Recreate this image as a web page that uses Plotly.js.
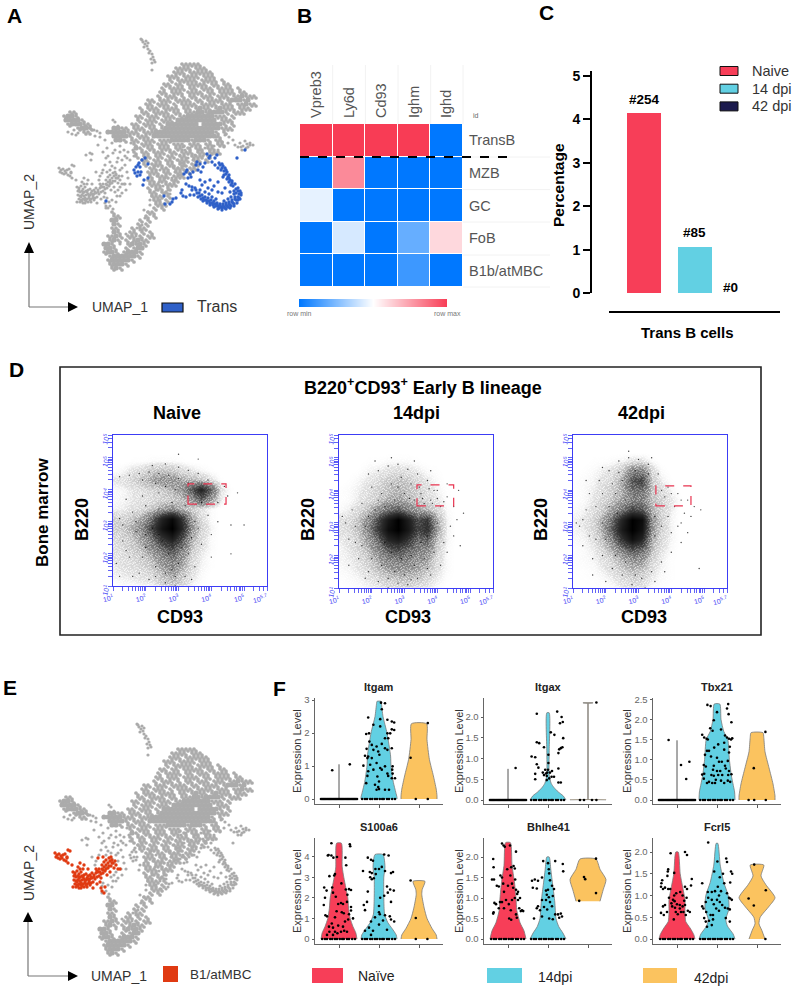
<!DOCTYPE html>
<html><head><meta charset="utf-8">
<script src="https://cdn.plot.ly/plotly-3.0.1.min.js"></script>
<style>html,body{margin:0;padding:0;background:#fff}#c{width:795px;height:989px}</style></head>
<body><div id="c"></div>
<script>
/* ---------- palette ---------- */
const RED='#F73E58', CYAN='#62D0E3', NAVY='#1C1B4E', YEL='#FBC35F', GREY='#ABABAB', BLUE='#2F60C8', ORNG='#E03A12', FB='#3C3CF5';
const FONT='Liberation Sans, Arial, sans-serif';

/* ---------- UMAP (shared embedding) : density mask, plus sparse cells ---------- */
const umapMask=[
"","","","","","","",
"                               +++++",
"                              ++++ +++",
"                             +++ ++++++",
"                            +++ ++++ +++",
"                            + +++++ ++++ +",
"                           ++ ++ +++++ ++ ++",
"                          + ++++ ++ +++ ++++ +",
"                          ++ +++ ++++ ++ ++++ ++",
"                         + +++ + ++ +++ +++ ++#+++",
"                       ++ +++ ++++ ++ ++++ +###+#",
"                      ++ +++ + ++++ ++++ +++ ++#++",
"                     + +++ ++++ ++ +#++ +#+++ +++",
"   ++                ++ ++++ ++ +++##+####+ +++",
"  +##+              ++ +++ +++ ++#######+++ +",
"  ####+             + +++ +++ ########## +++",
"   +###++          ++ +++ + ######## #####+ +",
"     +##+     ##++ +++ ++ +##############+++",
"       ++    #####+++ +++###############+ +",
"              ####+ +++ ################+ ",
"               ##+ ++ +++ +++#####+###+ ++",
"                   + +++ +++ +++ +++ ++ ++",
"                    #+ ++ +++ ++ + ++ ++",
"                   + ++ +++ ++ +++ ++ +++",
"                    + ++ ++ ++ ++ +++ +",
"                     ++ ++ ++ +++ ++ +",
"                      + +++ ++ ++ ++",
"                       ++ ++ +++ ++",
"                       +++ ++ ++ +",
"                       + +++ +++",
"                       ++ ++ ++",
"                       +++ +++",
"                       + ++ +",
"                       ++ ++ ",
"                        +++ +",
"                        ++ +",
"                         +++",
"                        + +",
"              +        ++ ",
"              ++      + +",
"              ##     + +",
"              #+    + +",
"              ++   + ++",
"              #+  ++ + +",
"             ++#+ ++ + ++",
"             +#+ + +#++",
"            ##+   +#+#+",
"            ##+  + +##",
"            +##+ +###+",
"             +######+",
"             +#####+",
"             +###+",
"              +#+"
];
const umapSparse=[[141,39],[143,42],[146,41],[148,43],[145,44],[147,46],[148,49],[150,51],[149,53],[152,54],[153,57],[154,60],[151,59],[152,63],[155,62],[152,70],[142,40],[144,47],
[68,132],[72,134],[76,135],[74,130],[78,133],[85,126],[88,128],[91,129],[94,130],[97,131],[100,133],[81,128],[84,130],
[115,122],[113,120],[118,126],[95,136],[100,137],[105,140],[98,145],[107,148],[112,143],[90,153],[92,154],[103,152],[108,156],[115,150],[120,146],[124,150],[128,152],[118,158],[122,160],[110,162],[105,165],[115,168],[120,170],[125,165],[130,160],[127,172],[118,178],[113,153],[110,170],[122,176],[128,178],[125,184],[120,187],[130,184],[106,158],[133,150],[131,143],[134,156],[127,158],[112,166],[117,162],[122,168],[125,156],[120,152],[116,174],[126,190],[122,193],[118,190],
[86,155],[91,160],[96,172],[100,176],[103,170],[99,180],[110,182],[115,192],[117,196],[120,196],[112,200],[116,202],[110,206],[106,208],[113,209],[107,198],
[220,140],[225,135],[229,137],[233,140],[228,143],[224,147],[235,145],[240,143],[243,146],[247,144],[250,145],[253,145],[246,148],[242,150],[238,147],[250,143],[245,141],[222,142],[217,137],[241,147],[248,147],
[185,150],[190,148],[195,155],[200,150],[205,148],[210,150],[214,146],[218,150],[180,155],[188,158],[193,160],[177,160],[182,163],[178,168],[175,172],[172,178],[170,184],[168,190],[165,193],[160,200],[175,180],[180,175],[184,166],[173,167],[168,172],[165,178],[163,186],[170,194],[203,156],[212,154],[183,147],[150,205],[148,212],[145,218],[142,225],[140,230],[136,236],[144,210],[150,200],[152,196],[156,190],[159,182],[157,176],[160,170],[155,166],
[132,236],[137,228],[133,242],[128,250],[141,238],[126,234],[120,244],[137,244]];
const umapTrans=[[192,190],[197,193],[200,196],[203,198],[206,200],[209,201],[212,203],[215,204],[218,206],[221,207],[224,207],[227,206],[230,205],[233,203],[236,200],[238,197],[239,194],[238,191],[236,189],
[199,193],[202,195],[205,197],[208,198],[211,200],[214,201],[217,203],[220,204],[223,204],[226,203],[229,202],[232,200],[235,197],[236,193],[234,191],[203,201],[207,203],[210,205],[214,207],[218,209],[222,210],[226,209],[230,208],[234,206],[237,203],[240,199],[241,195],[240,191],[238,188],[234,194],[231,197],[228,199],[224,201],[216,199],[212,197],[209,194],[205,192],[200,190],[196,190],[194,195],[198,197],
[201,199],[204,200],[207,201],[210,203],[213,205],[216,206],[219,208],[222,208],[225,208],[228,207],[231,206],[234,204],[238,200],[239,198],[241,193],[235,199],[232,202],[229,204],[226,205],[223,206],[220,206],[217,205],[213,203],
[220,165],[222,168],[224,171],[226,174],[228,177],[230,180],[232,183],[233,186],[221,170],[224,175],[227,179],[229,182],[219,163],[222,164],[225,168],[227,172],[229,175],[218,168],[223,177],[231,185],[235,184],[223,166],[226,170],[229,178],[232,181],
[200,164],[197,162],[203,167],[198,170],[205,163],[209,158],[212,162],[215,158],[207,154],[215,165],[201,172],[196,165],[210,156],[217,155],
[186,172],[190,174],[188,178],[191,177],[186,184],[189,186],[192,187],[195,188],[182,190],[181,193],[183,196],[186,197],[190,195],[184,174],[193,172],[187,170],
[136,167],[138,165],[140,167],[138,172],[140,175],[135,173],[137,176],[141,172],[142,160],[145,158],[148,164],[144,180],[148,178],[143,185],[134,170],[139,163],
[165,204],[170,204],[173,199],[176,198],[172,202],[164,196],
[245,150],[237,158],[106,201],
[200,180],[205,182],[210,180],[212,190],[218,182],[225,188],[230,192],[218,192],[208,188],[202,185],[222,193],[214,186]];
const umapB1=[[59,168],[61,170],[63,169],[65,171],[67,170],[60,172],[62,173],[64,174],[66,173],[68,175],[70,176],[71,172],[69,169],[71,173],[72,178],[76,180],[72,165],[74,166],
[77,187],[79,188],[81,186],[83,189],[85,187],[78,191],[80,192],[82,191],[84,192],[86,191],[88,190],[90,189],[92,191],[94,190],[78,195],[80,196],[82,195],[84,196],[86,195],[88,194],[90,195],[92,194],[94,194],[96,193],[79,199],[81,200],[83,199],[85,200],[87,199],[89,198],[91,199],[93,198],[95,198],[97,197],[77,202],[80,202],[83,203],[85,203],[88,202],[91,202],[84,184],[87,184],[82,182],[96,188],[98,190],[100,188],[102,187],[99,194],[101,192],[103,191],[105,189],[107,188],[109,186],[100,184],[103,184],[106,184],[108,182],[110,180],[112,178],[114,176],[116,175],[112,183],[115,181],[118,183],[120,180],[122,184],[124,184],[117,178],[113,173],[108,177],[106,180],[110,175],[119,176],[104,197],[101,199],[105,203],[106,206],[108,208],[109,202],[97,203],[84,178],[88,180],[92,184],[105,193],[111,190],[114,187],[107,172],[102,173],[115,172],
[79,190],[83,193],[87,192],[91,193],[95,192],[81,197],[85,198],[89,196],[93,196],[82,201],[86,201],[90,200],[94,200],[98,192],[101,186],[104,187],[107,185],[110,184],[113,181],[116,178]];

/* ---------- Panel B heatmap ---------- */
const geneNames=['Vpreb3','Ly6d','Cd93','Ighm','Ighd'];
const cellTypes=['TransB','MZB','GC','FoB','B1b/atMBC'];
const heatValues=[[1,1,1,1,0],[0,0.8,0,0,0],[0.45,0,0,0,0],[0,0.42,0,0.2,0.6],[0,0,0,0.12,0]];
const heatScale=[[0,'#0078FF'],[0.5,'#FFFFFF'],[1,'#F83C55']];
const rowScaleBar=[0,0.25,0.5,0.75,1];

/* ---------- Panel C bars ---------- */
const barGroups=['Naive','14 dpi','42 dpi'];
const barPct=[4.15,1.06,0];
const barCounts=['#254','#85','#0'];

/* ---------- Panel D flow density (rows y=1.0..5.5, cols x=1.0..5.5, step 0.3) ---------- */
const flowGrid=[1,1.3,1.6,1.9,2.2,2.5,2.8,3.1,3.4,3.7,4,4.3,4.6,4.9,5.2,5.5];
const flowTitles=['Naive','14dpi','42dpi'];
const zNaive=[
[0,2,2,3,3,8,12,8,3,1,0,0,0,0,0,0],
[3,4,5,6,8,14,18,12,5,2,0,0,0,0,0,0],
[4,6,7,9,12,20,26,18,7,3,1,0,0,0,0,0],
[5,7,9,12,18,28,36,24,9,4,1,0,0,0,0,0],
[6,8,11,16,26,40,50,32,12,6,2,0,0,0,0,0],
[7,10,14,22,38,62,78,50,18,8,2,0,0,0,0,0],
[10,12,18,28,52,84,100,68,22,10,3,0,0,0,0,0],
[10,10,14,20,40,72,92,60,20,8,2,0,0,0,0,0],
[3,4,6,8,12,20,24,16,10,6,2,0,0,0,0,0],
[2,3,5,6,8,10,12,14,24,42,22,4,0,0,0,0],
[2,3,5,7,9,12,16,24,45,72,40,6,1,0,0,0],
[5,6,10,14,20,24,24,18,16,12,6,1,0,0,0,0],
[1,3,6,8,12,14,12,8,5,3,1,0,0,0,0,0],
[0,0,1,1,2,2,2,1,0,0,0,0,0,0,0,0],
[0,0,0,0,0,0,0,0,0,0,0,0,0,0,0,0],
[0,0,0,0,0,0,0,0,0,0,0,0,0,0,0,0]];
const z14dpi=[
[0,1,2,3,4,6,8,8,6,4,2,0,0,0,0,0],
[1,2,3,5,8,12,14,14,12,8,4,1,0,0,0,0],
[2,3,5,8,14,20,22,22,18,14,6,2,0,0,0,0],
[3,4,7,12,20,30,34,30,24,20,8,2,0,0,0,0],
[3,5,9,16,28,45,50,40,30,28,10,2,0,0,0,0],
[4,6,12,22,40,68,78,60,38,42,14,3,0,0,0,0],
[6,8,14,28,55,88,100,80,50,62,20,3,0,0,0,0],
[6,8,14,26,50,80,100,75,48,58,18,3,0,0,0,0],
[2,4,8,14,24,36,42,30,20,16,8,2,0,0,0,0],
[1,2,5,8,12,18,20,16,12,8,5,1,0,0,0,0],
[1,2,4,7,10,14,16,14,10,7,3,1,0,0,0,0],
[0,1,3,5,8,12,14,12,8,5,2,0,0,0,0,0],
[0,0,1,3,4,6,7,6,4,2,1,0,0,0,0,0],
[0,0,0,1,1,2,2,2,1,0,0,0,0,0,0,0],
[0,0,0,0,0,0,0,0,0,0,0,0,0,0,0,0],
[0,0,0,0,0,0,0,0,0,0,0,0,0,0,0,0]];
const z42dpi=[
[0,0,1,1,2,4,6,5,2,1,0,0,0,0,0,0],
[0,1,1,2,4,7,10,9,4,2,1,0,0,0,0,0],
[1,1,2,4,7,12,16,14,6,3,1,0,0,0,0,0],
[1,2,3,6,11,18,26,24,10,4,1,0,0,0,0,0],
[1,2,4,9,18,34,48,40,14,6,2,0,0,0,0,0],
[2,3,6,14,30,60,85,68,18,8,3,0,0,0,0,0],
[3,4,8,18,42,78,100,85,22,10,3,0,0,0,0,0],
[3,5,9,18,38,70,100,90,24,11,3,0,0,0,0,0],
[2,3,6,11,20,34,50,45,16,10,4,0,0,0,0,0],
[1,2,5,9,14,20,30,30,14,10,5,1,0,0,0,0],
[1,2,4,7,11,18,34,36,12,8,3,0,0,0,0,0],
[1,2,3,6,9,18,46,52,12,4,1,0,0,0,0,0],
[0,1,2,4,6,12,28,30,8,2,0,0,0,0,0,0],
[0,0,1,1,2,3,6,6,2,0,0,0,0,0,0,0],
[0,0,0,0,0,0,0,0,0,0,0,0,0,0,0,0],
[0,0,0,0,0,0,0,0,0,0,0,0,0,0,0,0]];
const gateNaive=[3.29,4.45,3.55,4.18];
const gate14dpi=[3.38,4.5,3.52,4.17];
const gate42dpi=[3.53,4.6,3.52,4.14];
const dotsNaive=[[1.2,1.3],[1.5,1.9],[1.3,2.4],[1.8,1.4],[2.1,1.2],[1.7,2.7],[2.0,2.2],[2.3,1.6],[2.6,1.1],[2.9,1.0],[3.2,1.3],[3.5,1.6],[3.3,2.0],[3.7,2.3],[4.0,2.6],[3.6,2.8],[4.2,3.0],[3.9,3.2],[2.4,3.4],[2.0,3.5],[1.6,3.3],[1.2,3.1],[1.4,3.7],[1.9,3.8],[2.4,3.9],[2.8,3.6],[3.2,3.5],[1.2,4.4],[1.5,4.45],[1.8,4.5],[2.1,4.55],[2.4,4.5],[2.7,4.45],[3.0,4.35],[3.3,4.2],[1.9,4.3],[2.3,4.2],[2.6,4.1],[2.9,4.0],[2.2,4.75],[2.6,4.8],[3.0,4.7],[3.3,4.6],[3.6,4.5],[3.9,4.3],[4.4,4.1],[4.5,3.8],[4.2,3.6],[4.8,3.9],[5.0,2.9],[4.6,2.9],[4.6,2.0],[3.0,5.1],[3.6,4.95],[2.7,2.0],[2.5,2.4],[3.1,2.2],[2.8,1.5],[3.0,1.7],[2.6,1.4],[2.2,2.8],[2.4,2.6],[1.4,2.1],[1.1,1.7],[1.6,1.3],[3.4,2.5],[3.5,3.0],[3.7,3.6],[1.3,2.9],[1.7,3.0],[2.0,2.6],[4.0,1.9],[3.4,1.2],[2.3,1.3],[2.9,1.3],[1.9,1.9]];
const dots14dpi=[[1.3,1.7],[1.5,2.9],[1.2,3.0],[1.7,2.3],[1.9,1.5],[2.2,1.2],[2.5,1.0],[2.8,1.15],[3.1,1.1],[3.4,1.3],[3.8,1.4],[4.1,1.7],[4.3,2.1],[4.5,2.6],[4.6,3.1],[4.5,3.5],[4.3,3.8],[4.0,4.0],[3.7,4.3],[3.4,4.5],[3.1,4.65],[2.8,4.8],[2.5,4.75],[2.2,4.6],[1.9,4.5],[2.0,4.1],[1.7,3.6],[1.4,3.4],[2.3,3.9],[2.6,4.2],[2.9,4.4],[3.2,4.2],[3.5,3.9],[3.8,3.7],[4.1,3.5],[3.9,4.0],[3.6,3.6],[3.3,3.7],[3.0,3.9],[2.7,3.7],[2.4,3.5],[2.1,3.4],[1.8,2.9],[1.5,2.4],[2.0,1.9],[2.3,1.7],[2.7,1.5],[3.0,1.4],[3.3,1.7],[3.6,1.9],[3.9,2.1],[4.2,2.4],[4.4,2.9],[3.5,2.4],[3.2,2.0],[2.9,1.9],[2.6,2.1],[2.4,2.4],[3.7,2.6],[4.0,3.0],[1.6,1.9],[1.3,2.5],[1.1,3.2],[2.1,4.9],[2.6,5.0],[3.3,4.9],[3.8,4.6],[4.3,4.2],[4.65,4.0],[4.8,3.3],[4.7,2.3],[1.8,1.3],[2.5,1.3],[3.2,1.25],[3.7,1.6],[1.9,3.2],[2.2,3.7],[2.8,4.1],[3.15,3.75],[3.45,4.1],[3.75,4.05],[4.0,3.75],[4.2,3.65],[3.55,3.75],[3.85,3.6]];
const dots42dpi=[[1.2,2.9],[1.4,3.4],[1.3,2.3],[1.6,1.9],[1.5,3.9],[1.8,4.3],[2.1,4.6],[2.4,4.9],[2.7,5.0],[3.0,4.95],[3.3,4.8],[3.6,4.5],[3.9,4.1],[4.2,3.9],[4.5,3.7],[4.7,3.5],[4.6,3.2],[4.3,3.0],[4.0,2.7],[4.3,2.4],[4.0,2.1],[3.7,1.8],[3.4,1.5],[3.1,1.3],[2.8,1.1],[2.5,1.4],[2.2,1.6],[1.9,2.0],[1.7,2.5],[1.9,3.0],[2.1,3.5],[2.3,3.9],[2.5,4.3],[1.7,3.5],[1.3,3.1],[1.1,3.0],[1.5,2.6],[1.9,3.9],[2.2,4.2],[2.0,2.5],[2.3,2.0],[2.6,1.8],[3.5,2.6],[3.7,2.9],[3.9,3.2],[4.1,3.5],[3.8,3.8],[4.0,3.9],[4.3,3.7],[3.7,4.0],[4.4,3.3],[3.5,3.2],[3.3,4.5],[2.9,4.6],[2.4,4.55],[1.9,4.7],[3.2,1.0],[2.9,1.4],[3.5,1.2],[3.8,1.5],[4.5,2.7],[4.9,3.4],[4.85,1.6],[1.6,1.4],[2.0,1.2],[2.7,5.2],[3.4,5.0],[1.4,4.3],[4.2,2.9],[2.6,3.7],[2.35,3.3]];
/* stipple tile: breaks the smooth density into fine cytometry grain */
const grainTile=[[.03,.41],[.07,.86],[.11,.17],[.13,.62],[.18,.33],[.19,.94],[.23,.05],[.26,.71],[.28,.49],[.31,.22],[.35,.83],[.37,.58],[.41,.11],[.43,.37],[.46,.92],[.49,.68],[.52,.27],[.54,.03],[.57,.78],[.59,.47],[.63,.15],[.66,.89],[.68,.59],[.71,.34],[.74,.08],[.77,.73],[.79,.24],[.83,.97],[.85,.52],[.88,.13],[.91,.66],[.94,.39],[.97,.81],[.99,.19],
[.05,.21],[.09,.53],[.15,.78],[.21,.44],[.24,.89],[.29,.12],[.33,.64],[.39,.29],[.44,.76],[.47,.16],[.51,.55],[.56,.31],[.61,.84],[.64,.42],[.69,.06],[.73,.51],[.76,.93],[.81,.36],[.86,.74],[.9,.28],[.95,.58],[.01,.69],[.08,.02],[.16,.48],[.22,.61],[.27,.36],[.34,.01],[.38,.95],[.42,.52],[.48,.39],[.53,.87],[.58,.19],[.62,.63],[.67,.26],[.72,.79],[.78,.45],[.82,.11],[.87,.88],[.92,.47],[.96,.09],[.12,.31],[.17,.07],[.25,.54],[.32,.46],[.36,.72],[.45,.24],[.5,.98],[.55,.65],[.6,.35],[.65,.72],[.7,.44],[.75,.18],[.8,.61],[.84,.25],[.89,.56],[.93,.77],[.98,.33],[.04,.97],[.1,.74],[.14,.91],[.2,.25],[.3,.82],[.4,.67],[.02,.13]];
const grainStep=0.62;

/* ---------- Panel F violins: [levels, half-widths] per group, plus jitter dots ---------- */
const violinTitles=['Itgam','Itgax','Tbx21','S100a6','Bhlhe41','Fcrl5'];
const emptyViolin=(top)=>[[0,0.004,0.01,top],[0.45,0.45,0,0]];
const itgamShapes=[emptyViolin(1.05),
 [[0,0.05,0.2,0.5,1,1.3,2,2.5,2.9,2.96],[0.45,0.45,0.42,0.36,0.3,0.29,0.2,0.1,0.06,0.05]],
 [[0,0.1,0.3,0.7,1.2,1.8,2.28],[0.45,0.45,0.43,0.36,0.26,0.2,0.19]]];
const itgaxShapes=[emptyViolin(0.75),
 [[0,0.1,0.2,0.3,0.4,0.6,1.2,2.1],[0.45,0.38,0.25,0.15,0.08,0.03,0.03,0.03]],
 [[0,0.004,0.01,2.33,2.335,2.345],[0.45,0.45,0.004,0.004,0.12,0.12]]];
const tbx21Shapes=[emptyViolin(1.48),
 [[0,0.2,0.4,0.6,1,1.5,1.7,2,2.38],[0.45,0.44,0.4,0.36,0.31,0.27,0.17,0.1,0.07]],
 [[0,0.1,0.4,0.8,1.2,1.55,1.67],[0.45,0.45,0.4,0.3,0.2,0.17,0.15]]];
const s100Shapes=[
 [[0,0.3,0.6,1,1.5,2,2.5,3,3.5,4.65],[0.45,0.42,0.35,0.28,0.24,0.22,0.17,0.12,0.08,0.06]],
 [[0,0.2,0.5,0.8,1.2,2,3,3.5,4.1],[0.45,0.43,0.33,0.22,0.14,0.12,0.12,0.15,0.1]],
 [[0,0.2,0.5,1,1.5,2.15,2.4,2.8],[0.45,0.43,0.33,0.2,0.13,0.07,0.08,0.15]]];
const bhlhShapes=[
 [[0,0.2,0.4,0.7,1,1.4,1.8,2.35],[0.45,0.4,0.3,0.22,0.2,0.16,0.1,0.06]],
 [[0,0.15,0.3,0.5,0.9,1.3,1.7,2],[0.45,0.37,0.27,0.2,0.17,0.12,0.07,0.03]],
 [[0.92,1.2,1.45,1.7,1.95],[0.3,0.38,0.45,0.3,0.2]]];
const fcrlShapes=[
 [[0,0.1,0.25,0.4,0.6,0.9,1.2,1.5,2],[0.45,0.42,0.33,0.22,0.2,0.2,0.14,0.08,0.03]],
 [[0,0.12,0.3,0.45,0.7,1,1.3,1.7,2.2],[0.45,0.4,0.26,0.22,0.3,0.28,0.17,0.08,0.02]],
 [[0,0.2,0.35,0.5,0.75,0.95,1.25,1.45,1.7],[0.2,0.12,0.05,0.08,0.3,0.45,0.22,0.1,0.17]]];
const zeroDense=[-0.45,-0.42,-0.39,-0.36,-0.33,-0.3,-0.27,-0.24,-0.21,-0.18,-0.15,-0.12,-0.09,-0.06,-0.03,0,0.03,0.06,0.09,0.12,0.15,0.18,0.21,0.24,0.27,0.3,0.33,0.36,0.39,0.42,0.45];
const zeroSparse=[-0.42,-0.35,-0.3,-0.22,-0.17,-0.1,-0.05,0.02,0.08,0.12,0.2,0.25,0.33,0.4];
const itgamDots=[[-0.17,0.87],[0.27,1.05],
[.73,2.47],[.86,2.25],[1.07,2.72],[1.05,2.92],[1.15,2.9],[1.03,2.42],[1.21,2.4],[1.32,2.35],[1.38,2.32],[.75,1.99],[.68,1.97],[.76,1.74],[1.21,1.99],[1.03,2.2],[1.32,2.11],[1.38,2.09],[1.15,1.84],[1.23,1.84],[1.28,1.99],[.82,1.64],[.94,1.59],[1.07,1.67],[1.32,1.54],[.69,1.52],[.65,1.31],[.73,1.29],[.71,1.24],[.86,1.49],[.98,1.44],[1.01,1.34],[1.15,1.54],[1.21,1.49],[.82,1.24],[.61,1.01],[.78,1.04],[.94,1.09],[1.07,.89],[1.15,.99],[1.34,.99],[1.33,.89],[.73,.84],[.86,.89],[1.03,.94],[1.21,.77],[1.23,.7],[1.34,.77],[1.32,.63],[1.4,.63],[.71,.7],[.96,.68],[1,.53],[.9,.43],[.98,.36],[1.15,.28],[1.25,.28],[.68,.48],[.94,.28],[1,.3],
[2.22,2.3],[1.79,1.25],[1.92,0],[2.22,0]];
const itgaxDots=[[0.19,0.77],
[.72,2.08],[1.23,2.13],[1.34,2],[1.3,1.85],[1.37,1.88],[1.07,1.63],[1.16,1.57],[1.38,1.49],[.72,1.39],[.78,1.37],[.9,1.27],[1.32,1.25],[1.36,1.27],[1.28,1.22],[1.26,1.13],[.59,1.05],[.68,1.03],[1.01,1.09],[1.01,.89],[.72,.86],[.76,.78],[1.26,.76],[.93,.73],[1,.73],[.87,.66],[.95,.64],[1.05,.66],[.68,.63],[.97,.58],[1.09,.56],[1.15,.56],[.68,.5],[.97,.48],[1.26,.42],[1.32,.42],[1.03,.52],[.9,.6],[1.1,.7],[.98,.66],
[2.21,2.35],[1.8,0],[1.9,0],[2.1,0],[2.21,0]];
const tbx21Dots=[[-0.21,1.49],[0.1,0.87],[0.31,0.95],[0.23,0.52],
[.76,2.36],[.84,2.33],[1.28,2.38],[1.25,2.27],[1,2.18],[1.29,2.13],[1.36,1.93],[.92,1.98],[.83,1.78],[.89,1.72],[.63,1.62],[.68,1.55],[.74,1.52],[.77,1.5],[1.1,1.75],[1.2,1.6],[1.25,1.55],[1.3,1.52],[1.35,1.5],[1.38,1.53],[1.03,1.38],[1.18,1.42],[.93,1.3],[.75,1.22],[.8,1.22],[1.18,1.25],[1.32,1.32],[1.3,1.18],[.7,1.12],[.85,1.08],[1,1.05],[1.05,.95],[1.12,.95],[1.27,.97],[.67,.87],[.72,.83],[.92,.85],[1.2,.85],[.9,.75],[1,.72],[1.08,.72],[1.22,.78],[1.3,.72],[.68,.65],[.86,.62],[.92,.6],[1.03,.62],[1.13,.62],[1.28,.62],[1.36,.64],[.63,.63],[.67,.53],[.8,.45],[.88,.42],[.97,.5],[1.1,.48],[1.18,.42],[1.27,.48],[1.33,.45],[.75,.42],[.95,.42],
[2.21,1.69],[1.92,.79],[1.79,0],[1.93,0],[2.22,0]];
const s100Dots=[[-0.26,4.08],[-0.19,4.05],[-0.28,4.05],[-0.14,3.95],[-0.05,3.98],[-0.19,4.65],[0.27,4.6],[0.28,4.5],[0.16,3.95],[0.18,3.58],[-0.24,3.05],[-0.1,3.15],[-0.12,3.08],[-0.37,2.5],[-0.31,2.35],[-0.35,2.0],[-0.38,1.65],[-0.3,1.1],[-0.34,1.15],[-0.17,2.5],[-0.15,2.25],[-0.08,2.05],[0.06,2.7],[0.17,2.4],[0.25,2.42],[0.3,2.38],[0.21,2.15],[0.3,1.55],[0.3,1.38],[0.35,1.0],[0.05,1.75],[-0.02,1.7],[0.1,1.7],[0.2,1.8],[-0.06,1.35],[-0.1,1.05],[0.07,1.3],[0.12,1.25],[0.25,1.2],[0.23,0.95],[0.15,0.85],[-0.18,0.75],[-0.25,0.6],[-0.15,0.55],[-0.02,0.65],[0.1,0.6],[-0.24,0.35],[-0.1,0.35],[-0.04,0.28],[0.05,0.35],[0.13,0.4],[0.2,0.35],[-0.3,0.2],[-0.15,0.2],
[.72,3.95],[.8,3.85],[.85,3.8],[.91,3.4],[1.13,4.1],[1.24,4.05],[.6,3.3],[.77,3.25],[.82,3.2],[.92,3.15],[1,3.4],[1.07,3.5],[1.15,3.3],[1.3,3.2],[1.35,3.25],[.78,3],[.82,2.9],[.87,2.95],[.72,2.3],[1.28,2.4],[1.37,2.35],[1.2,2.55],[1.22,2.25],[1.13,2.1],[1.03,2],[1.3,1.8],[.62,1.65],[.7,1.8],[.65,1.4],[1,1.6],[1,1.3],[1.02,1.2],[1.15,1.15],[1.27,1.1],[1.3,.95],[1.38,.85],[.9,1.05],[.8,.85],[.75,.55],[.65,.4],[.85,.4],[1,.7],[1.1,.9],[1.2,.45],[.8,.2],
[1.79,2.84],[1.92,1.02],[1.92,0],[2.21,0]];
const bhlhDots=[[-0.15,2.33],[-0.11,2.28],[-0.08,2.25],[0.05,2.28],[-0.37,1.95],[0.2,2.13],[-0.36,1.75],[0.14,1.78],[0.17,1.72],[0.08,1.75],[-0.02,1.7],[-0.4,1.45],[-0.19,1.55],[-0.15,1.5],[-0.35,1.45],[-0.28,1.3],[-0.23,1.28],[-0.12,1.35],[0.06,1.55],[0.18,1.45],[0.2,1.2],[-0.1,1.15],[0,1.3],[0.1,1.35],[0.13,1.25],[0.23,1.1],[0.25,1.15],[0.3,1],[-0.34,0.88],[-0.3,0.85],[-0.2,0.9],[-0.15,0.9],[-0.05,0.95],[0.02,0.85],[0.1,0.95],[0.17,1],[0.25,0.95],[0.28,0.75],[0.35,0.7],[0.32,0.68],[0.38,0.68],[-0.36,0.65],[-0.37,0.62],[-0.23,0.75],[-0.1,0.75],[0.07,0.7],[0.2,0.6],[0.22,0.52],[0.03,0.5],[0.08,0.47],
[.6,1.42],[.67,1.45],[.75,1.42],[.85,1.5],[.62,1.25],[.72,1.23],[.95,1.18],[1,1.2],[1.1,1.3],[1.15,1.22],[1.05,1.43],[1.03,1.6],[1.02,1.7],[1,1.85],[.88,1.9],[1.18,1.9],[1.37,1.83],[1.38,1.65],[.97,1.08],[1.02,1.02],[1.12,1.05],[.95,.95],[1.05,.9],[.85,.95],[.72,.75],[.75,.8],[.8,.7],[.9,.78],[.98,.72],[1.1,.8],[1.18,.6],[1.25,.6],[1.32,.62],[1.35,.55],[1.28,.52],[.65,.5],[.85,.55],[1.03,.5],[1.12,.48],
[2.2,1.96],[1.9,1.51],[1.93,1.46],[2.2,1.12],[1.78,.93]];
const fcrlDots=[[-0.16,1.97],[0.2,2.0],[0.25,1.93],[-0.22,1.6],[-0.23,1.55],[-0.07,1.52],[-0.24,1.45],[0.37,1.38],[-0.37,1.35],[-0.39,1.28],[-0.4,1.2],[-0.35,1.15],[-0.3,1.18],[-0.22,1.15],[-0.17,1.15],[0.08,1.08],[0.2,1.2],[0.35,1.23],[0.25,1.15],[-0.02,1.05],[-0.07,1.0],[0.14,1],[0.24,0.95],[0.18,0.88],[-0.1,0.9],[-0.06,0.87],[-0.2,0.95],[-0.3,0.78],[-0.35,0.75],[-0.4,0.6],[-0.25,0.62],[-0.14,0.82],[-0.12,0.75],[-0.05,0.72],[0,0.8],[0.07,0.78],[0.14,0.75],[0.2,0.78],[0.27,0.65],[0.32,0.62],[0.1,0.62],[0.16,0.62],[0.22,0.55],[0.02,0.57],[-0.08,0.45],[-0.33,0.55],[0.07,0.7],[-0.03,0.62],
[.78,2.22],[1.23,1.85],[1.25,1.77],[1.01,1.78],[.93,1.55],[1.15,1.5],[1.07,1.42],[.63,1.28],[1.35,1.55],[1.38,1.5],[1.33,1.3],[1.18,1.28],[1.02,1.2],[.95,1.1],[.87,1.08],[.77,1.08],[1.05,1],[1.1,1.1],[1.25,1.05],[1.3,.95],[1.33,.93],[1.37,.9],[.72,.85],[.78,.95],[.87,.9],[.92,.8],[1.0,.9],[1.07,.85],[1.13,.78],[1.2,.72],[1.27,.7],[1.32,.68],[.63,.75],[.66,.7],[.73,.62],[.84,.55],[.9,.55],[.98,.7],[1.05,.65],[.68,.48],[.72,.4],[.8,.42],[.87,.32],[.75,.28],[.9,.45],[1.22,.48],[1.32,.4],
[1.93,1.71],[2.22,1.12],[1.79,.93],[1.92,.77],[2.21,0]];
const legendF=['Naïve','14dpi','42dpi'];
const violinColors=[RED,CYAN,YEL];
const decadeMinor=[0.3,0.48,0.6,0.7,0.78,0.85,0.9,0.95];

/* ---------- helpers ---------- */
const W=795,H=989;
const px=x=>x/W, py=y=>1-y/H;
const traces=[],shapes=[],annos=[];
const layout={width:W,height:H,margin:{l:0,r:0,t:0,b:0},paper_bgcolor:'#fff',plot_bgcolor:'rgba(0,0,0,0)',showlegend:false,font:{family:FONT},shapes,annotations:annos,hovermode:false};
let axN=0;
function axes(x0,x1,y0,y1,xo,yo){
  axN++; const s=axN===1?'':axN;
  layout['xaxis'+s]=Object.assign({domain:[px(x0),px(x1)],anchor:'y'+s,showgrid:false,zeroline:false,showline:false,showticklabels:false,ticks:''},xo||{});
  layout['yaxis'+s]=Object.assign({domain:[py(y1),py(y0)],anchor:'x'+s,showgrid:false,zeroline:false,showline:false,showticklabels:false,ticks:''},yo||{});
  return {xaxis:'x'+s,yaxis:'y'+s};
}
function T(text,x,y,o){o=o||{};annos.push({text,x:px(x),y:py(y),xref:'paper',yref:'paper',showarrow:false,xanchor:o.xa||'center',yanchor:'middle',textangle:o.rot||0,font:{family:FONT,size:o.size||12,color:o.color||'#000',weight:o.bold?700:400}});}
function rect(x0,y0,x1,y1,fill,line,lw){shapes.push({type:'rect',xref:'paper',yref:'paper',x0:px(x0),x1:px(x1),y0:py(y0),y1:py(y1),fillcolor:fill||'rgba(0,0,0,0)',line:{color:line||'rgba(0,0,0,0)',width:lw||0}});}
function ln(x0,y0,x1,y1,c,w,d){shapes.push({type:'line',xref:'paper',yref:'paper',x0:px(x0),x1:px(x1),y0:py(y0),y1:py(y1),line:{color:c,width:w,dash:d||'solid'}});}
function tri(a,b,c){shapes.push({type:'path',xref:'paper',yref:'paper',path:`M${px(a[0])},${py(a[1])}L${px(b[0])},${py(b[1])}L${px(c[0])},${py(c[1])}Z`,fillcolor:'#000',line:{width:0}});}
function maskPts(ch,ox,oy){const o=[];umapMask.forEach((row,r)=>{for(let c=0;c<row.length;c++){if(row[c]===ch)o.push([56+4*c+(r%2?2:0)+ox,36+4*r+oy]);}});return o;}
function pts(ax,list,color,size,op){traces.push(Object.assign({type:'scatter',mode:'markers',x:list.map(p=>p[0]),y:list.map(p=>p[1]),marker:{color,size,opacity:op===undefined?1:op,line:{width:0}},hoverinfo:'skip'},ax));}

/* ---------- A + E UMAP ---------- */
function umap(dx,dy,highlight,color,others){
  const ax=axes(50+dx,260+dx,30+dy,280+dy,{range:[50,260]},{range:[280,30]});
  pts(ax,maskPts('#',0,0),GREY,5.2);
  pts(ax,maskPts('+',0,0),GREY,3.7);
  pts(ax,maskPts('+',2,2),GREY,3.7);
  pts(ax,umapSparse,GREY,3.2);
  pts(ax,others,GREY,3.2);
  pts(ax,highlight,color,3.4);
}
umap(0,0,umapTrans,BLUE,umapB1);
umap(-4,685,umapB1,ORNG,umapTrans);
function umapArrows(xv,yb,yt,tip,xr,xtip){
  ln(xv,yb,xv,yt,'#777',1.2); ln(xv,yb,xr,yb,'#777',1.2);
  tri([xv-5,yt],[xv+5,yt],[xv,tip]); tri([xr,yb-5],[xr,yb+5],[xtip,yb]);
}
umapArrows(29,307,253,242,68,78);
umapArrows(28,976,922,912,68,78);
T('UMAP_2',29,202,{size:14,rot:-90,color:'#333'});
T('UMAP_1',120,307,{size:14,color:'#333'});
rect(162,303,183,312,BLUE,'#111',1.2);
T('Trans',195,306,{size:16,xa:'left',color:'#333'});
T('UMAP_2',29,873,{size:14,rot:-90,color:'#333'});
T('UMAP_1',119,976,{size:14,color:'#333'});
rect(163,966,178,982,ORNG);
T('B1/atMBC',188,974,{size:13.5,xa:'left',color:'#333'});

/* ---------- B heatmap ---------- */
[332.7,365.4,398,430.7,463].forEach(x=>ln(x,65,x,124,'#f2f2f2',1));
[157,189.6,222,255,287].forEach(y=>ln(463,y,550,y,'#f2f2f2',1));
const bAx=axes(300,463,124,287,{side:'top',showticklabels:true,tickangle:-90,type:'category',tickfont:{size:14.5,color:'#555'},ticklabelstandoff:5},
  {side:'right',showticklabels:true,type:'category',autorange:'reversed',tickfont:{size:14.5,color:'#555'},ticklabelstandoff:5});
traces.push(Object.assign({type:'heatmap',x:geneNames,y:cellTypes,z:heatValues,zmin:0,zmax:1,colorscale:heatScale,showscale:false,xgap:1,ygap:1,hoverinfo:'skip'},bAx));
ln(300,157,515,157,'#000',2,'dash');
T('id',471,116,{size:7,color:'#666',xa:'left'});
const cbAx=axes(299,447,299,307,{range:[0,1]},{range:[0,1]});
traces.push(Object.assign({type:'heatmap',x:[0,0.25,0.5,0.75,1],y:[0,1],z:[rowScaleBar,rowScaleBar],zmin:0,zmax:1,colorscale:heatScale,showscale:false,zsmooth:'best',hoverinfo:'skip'},cbAx));
T('row min',299,313,{size:7,color:'#777'});
T('row max',447,313,{size:7,color:'#777'});

/* ---------- C bars ---------- */
const cAx=axes(592,780,71,293,{range:[-1.02,2.667]},{range:[0,5.115],tickmode:'array',tickvals:[0,1,2,3,4,5],showticklabels:true,showline:true,linecolor:'#000',linewidth:2,ticks:'outside',ticklen:7,tickwidth:2,tickcolor:'#000',tickfont:{size:14,color:'#000',weight:700}});
traces.push(Object.assign({type:'bar',x:[0,1,2],y:barPct,width:0.667,marker:{color:[RED,CYAN,NAVY],line:{width:0}},hoverinfo:'skip'},cAx));
T(barCounts[0],644,99,{size:13.5,bold:true});
T(barCounts[1],694,232,{size:13.5,bold:true});
T(barCounts[2],730,287,{size:13.5,bold:true});
T('Percentage',559,185,{size:15.5,bold:true,rot:-90});
ln(609,312,780,312,'#000',1.8);
T('Trans B cells',687,332,{size:15,bold:true});
barGroups.forEach((g,i)=>{const y=71+17.7*i;rect(720,y-4.5,738,y+4.5,[RED,CYAN,NAVY][i],'#111',1);T(g,750,y,{size:14.5,xa:'left',color:'#333'});});

/* ---------- D flow ---------- */
rect(60,367,761,635,null,'#222',1.6);
T('B220<sup>+</sup>CD93<sup>+</sup> Early B lineage',423,387,{size:18,bold:true});
T('Bone marrow',42,513,{size:17,bold:true,rot:-90});
const flowMajor=[1,2,3,4,5,5.7];
const flowTicks=[];const flowText=[];
[1,2,3,4,5].forEach(d=>{decadeMinor.forEach(m=>{if(d+m<5.7){flowTicks.push(d+m);flowText.push('');}});});
function zAt(z,x,y){
  const fx=Math.min(14.999,Math.max(0,(x-1)/0.3)), fy=Math.min(14.999,Math.max(0,(y-1)/0.3));
  const i=Math.floor(fx),j=Math.floor(fy),a=fx-i,b=fy-j;
  return (1-b)*((1-a)*z[j][i]+a*z[j][i+1])+b*((1-a)*z[j+1][i]+a*z[j+1][i+1]);
}
function grainFor(z){
  const xs=[],ys=[],ops=[];
  for(let ix=0;ix<8;ix++)for(let iy=0;iy<8;iy++)grainTile.forEach(g=>{
    const x=1+(ix+g[0])*grainStep, y=1+(iy+g[1])*grainStep;
    if(x>=5.7||y>=5.7)return;
    const v=zAt(z,x,y);
    if(v<=0.3||v>=70)return;
    xs.push(x);ys.push(y);ops.push(Math.max(0,0.95-v/70));
  });
  return {xs,ys,ops};
}
function flow(i,x0,x1,y0,y1,z,dots,gate,tx,yLabX,xLabX){
  const lab=(e)=>'10<sup>'+e+'</sup>';
  const ax=axes(x0,x1,y0,y1,
   {range:[1,5.7],tickmode:'array',tickvals:flowMajor.concat(flowTicks),ticktext:flowMajor.map(lab).concat(flowText),showticklabels:true,showline:true,mirror:true,linecolor:FB,linewidth:1.2,ticks:'outside',ticklen:4,tickwidth:0.8,tickcolor:FB,tickangle:-15,tickfont:{size:7,color:FB}},
   {range:[1,5.7],tickmode:'array',tickvals:flowMajor.concat(flowTicks),ticktext:[1,2,3,4,5,5].map(lab).concat(flowText),showticklabels:true,showline:true,mirror:true,linecolor:FB,linewidth:1.2,ticks:'outside',ticklen:4,tickwidth:0.8,tickcolor:FB,tickangle:-75,tickfont:{size:7,color:FB}});
  traces.push(Object.assign({type:'heatmap',x:flowGrid,y:flowGrid,z,zmin:0,zmax:100,zsmooth:'best',showscale:false,hoverinfo:'skip',colorscale:[[0,'rgba(255,255,255,0)'],[0.05,'rgba(205,205,205,0.65)'],[0.2,'#8f8f8f'],[0.5,'#3c3c3c'],[1,'#000']]},ax));
  const g=grainFor(z);
  traces.push(Object.assign({type:'scatter',mode:'markers',x:g.xs,y:g.ys,marker:{color:'#fff',size:1.3,opacity:g.ops,line:{width:0}},hoverinfo:'skip'},ax));
  pts(ax,dots,'#000',1.4,0.75);
  shapes.push({type:'rect',xref:ax.xaxis,yref:ax.yaxis,x0:gate[0],x1:gate[1],y0:gate[2],y1:gate[3],line:{color:'#E8334F',width:1.2,dash:'dash'}});
  T(flowTitles[i],tx,413,{size:18,bold:true});
  T('B220',yLabX,520,{size:18,bold:true,rot:-90});
  T('CD93',xLabX,617,{size:18,bold:true});
}
flow(0,113,267,435,586,zNaive,dotsNaive,gateNaive,177,82,180);
flow(1,339,493,435,588,z14dpi,dots14dpi,gate14dpi,416,308,408);
flow(2,573,727,435,588,z42dpi,dots42dpi,gate42dpi,641,541,644);

/* ---------- F violins ---------- */
function violin(i,axisX,catX0,y0Px,unit,topPx,botPx,shapesV,dots,ticks,zeroLists,yLabX){
  const xr=[(axisX-catX0)/40,(axisX+128-catX0)/40];
  const ax=axes(axisX,axisX+128,topPx,botPx,
    {range:xr,tickmode:'array',tickvals:[0,1,2],showline:true,linecolor:'#666',linewidth:1,ticks:'outside',ticklen:2.5,tickcolor:'#333',tickwidth:0.8},
    {range:[(y0Px-botPx)/unit,(y0Px-topPx)/unit],tickmode:'array',tickvals:ticks,ticktext:ticks.map(t=>ticks.some(v=>v%1)?t.toFixed(1):String(t)),showticklabels:true,showline:true,linecolor:'#666',linewidth:1,ticks:'outside',ticklen:2.5,tickcolor:'#333',tickwidth:0.8,tickfont:{size:9.5,color:'#666'}});
  shapesV.forEach((s,g)=>{
    const ys=s[0],ws=s[1];
    const sharp=ys.some((y,k)=>k>0&&y-ys[k-1]<0.02);
    const up=ys.map((y,k)=>g+ws[k]), dn=ys.map((y,k)=>g-ws[k]).reverse();
    traces.push(Object.assign({type:'scatter',mode:'lines',x:up.concat(dn),y:ys.concat(ys.slice().reverse()),fill:'toself',fillcolor:violinColors[g],line:{color:'#7a7a7a',width:0.8,shape:sharp?'linear':'spline',smoothing:0.6},hoverinfo:'skip'},ax));
  });
  pts(ax,dots,'#000',2.6);
  zeroLists.forEach((z,g)=>{ if(z) pts(ax,z.map(o=>[g+o,0]),'#000',2.6); });
  T(violinTitles[i],axisX+64,topPx-11,{size:11,bold:true,color:'#222'});
  T('Expression Level',yLabX,(topPx+botPx)/2,{size:11,rot:-90,color:'#333'});
}
violin(0,315,339,799,33,698,804,itgamShapes,itgamDots,[0,1,2,3],[zeroDense,zeroSparse,null],297);
violin(1,484,508,800,41.5,698,804,itgaxShapes,itgaxDots,[0,0.5,1,1.5,2],[zeroDense,zeroSparse,null],459);
violin(2,653,677,800,40.3,698,804,tbx21Shapes,tbx21Dots,[0,0.5,1,1.5,2,2.5],[zeroDense,zeroSparse,null],627);
violin(3,315,339,939,20.6,838,944,s100Shapes,s100Dots,[0,1,2,3,4],[zeroSparse,zeroSparse,null],297);
violin(4,484,508,939,41,838,944,bhlhShapes,bhlhDots,[0,0.5,1,1.5,2],[zeroSparse,zeroSparse,null],459);
violin(5,653,677,939,43.5,838,944,fcrlShapes,fcrlDots,[0,0.5,1,1.5,2],[zeroSparse,zeroSparse,null],627);

rect(312,968,343,983,RED); T(legendF[0],356,976,{size:14,xa:'left',color:'#222'});
rect(487,968,522,983,CYAN); T(legendF[1],536,977,{size:14,xa:'left',color:'#222'});
rect(643,968,677,983,YEL); T(legendF[2],692,978,{size:14,xa:'left',color:'#222'});

/* ---------- panel letters ---------- */
[['A',14,16],['B',304,15],['C',546,13],['D',16,370],['E',10,687],['F',279,688]].forEach(l=>T(l[0],l[1],l[2],{size:21,bold:true}));

Plotly.newPlot('c',traces,layout,{displayModeBar:false,staticPlot:true});
</script></body></html>
